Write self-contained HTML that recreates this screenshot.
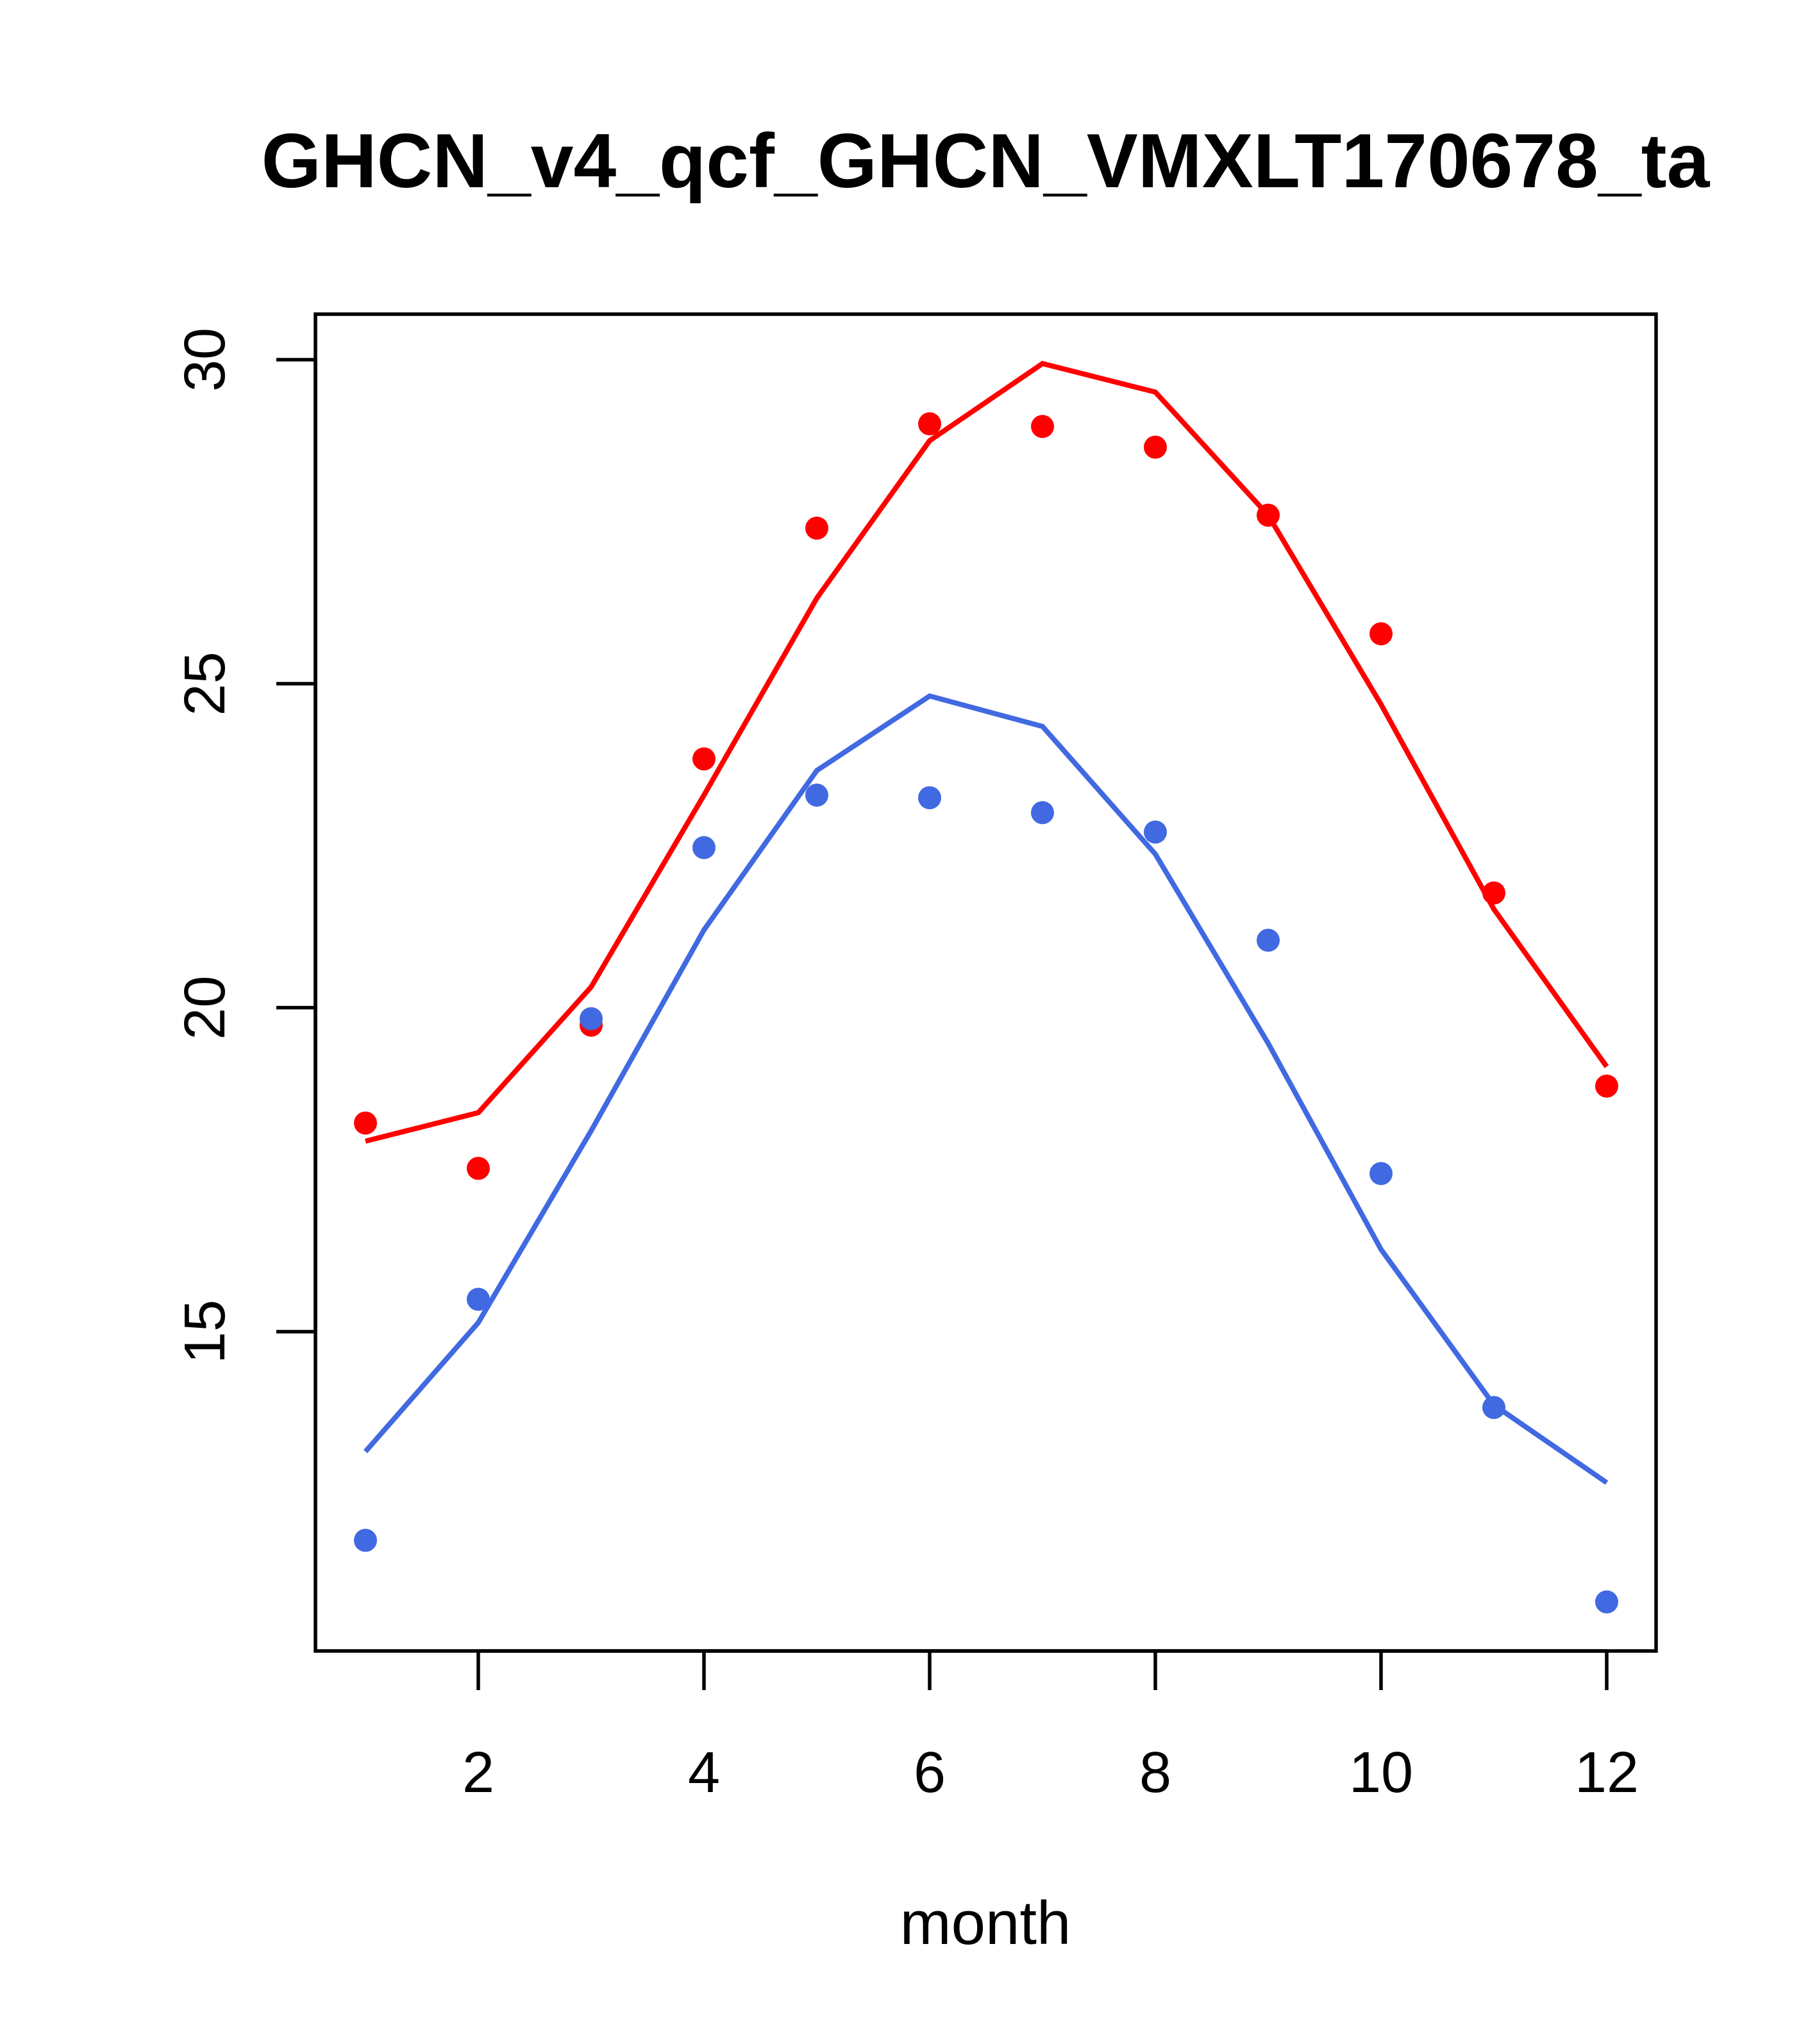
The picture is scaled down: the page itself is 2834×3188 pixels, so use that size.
<!DOCTYPE html>
<html><head><meta charset="utf-8"><style>html,body{margin:0;padding:0;background:#fff}svg{display:block}</style></head>
<body>
<svg id="chart" width="2834" height="3188" viewBox="0 0 2834 3188" xmlns="http://www.w3.org/2000/svg" font-family="Liberation Sans, sans-serif">
<rect width="2834" height="3188" fill="#fff"/>
<text x="1537" y="292" font-size="120" font-weight="bold" text-anchor="middle">GHCN_v4_qcf_GHCN_VMXLT170678_ta</text>
<rect x="492" y="490" width="2091" height="2085" fill="none" stroke="#000" stroke-width="5.5"/>
<g id="axes"></g>
<g id="series"></g>
<text x="1537" y="3032" font-size="96" text-anchor="middle">month</text>
</svg>
<script>
const months=[1,2,3,4,5,6,7,8,9,10,11,12];
const redPoints=[18.22,17.52,19.73,23.84,27.40,29.01,28.97,28.65,27.60,25.77,21.77,18.79];
const redLine=[17.94,18.38,20.32,23.28,26.32,28.75,29.94,29.50,27.60,24.68,21.52,19.09];
const bluePoints=[11.78,15.50,19.83,22.47,23.28,23.24,23.01,22.71,21.04,17.44,13.83,10.83];
const blueLine=[13.15,15.14,18.10,21.20,23.66,24.81,24.34,22.37,19.45,16.27,13.87,12.67];
const xTicks=[2,4,6,8,10,12];
const yTicks=[15,20,25,30];
const NS='http://www.w3.org/2000/svg';
const xs=v=>746+(v-2)*(2506-746)/10;
const ys=v=>561+(30-v)*(2077-561)/15;
const B=2575, L=492;
function mk(t,a,p){const e=document.createElementNS(NS,t);for(const k in a)e.setAttribute(k,a[k]);p.appendChild(e);return e;}
const ax=document.getElementById('axes'),se=document.getElementById('series');
const xl=mk('line',{x1:xs(2),x2:xs(12),y1:B,y2:B,stroke:'#000','stroke-width':5.5},ax);


const yl=mk('line',{x1:L,x2:L,y1:ys(15),y2:ys(30),stroke:'#000','stroke-width':5.5},ax);


xTicks.forEach(v=>{
 const l=mk('line',{x1:xs(v),x2:xs(v),y1:B,y2:B+61,stroke:'#000','stroke-width':5.5},ax);
 
 
 const t=mk('text',{x:xs(v),y:2795,'font-size':90,'text-anchor':'middle'},ax);t.textContent=v;
 
 
});
yTicks.forEach(v=>{
 const l=mk('line',{x1:L-61,x2:L,y1:ys(v),y2:ys(v),stroke:'#000','stroke-width':5.5},ax);
 
 
 const t=mk('text',{x:0,y:0,'font-size':90,'text-anchor':'middle',transform:`translate(350,${ys(v)}) rotate(-90)`},ax);t.textContent=v;
 
 
});
function series(line,pts,col,name){
 const pl=mk('polyline',{points:months.map((m,i)=>xs(m)+','+ys(line[i])).join(' '),fill:'none',stroke:col,'stroke-width':8},se);
 
 
 months.forEach((m,i)=>{
  const c=mk('circle',{cx:xs(m),cy:ys(pts[i]),r:18,fill:col},se);
  
  
 });
}
series(redLine,redPoints,'#ff0000','max');
series(blueLine,bluePoints,'#4169e1','min');
</script>
</body></html>
